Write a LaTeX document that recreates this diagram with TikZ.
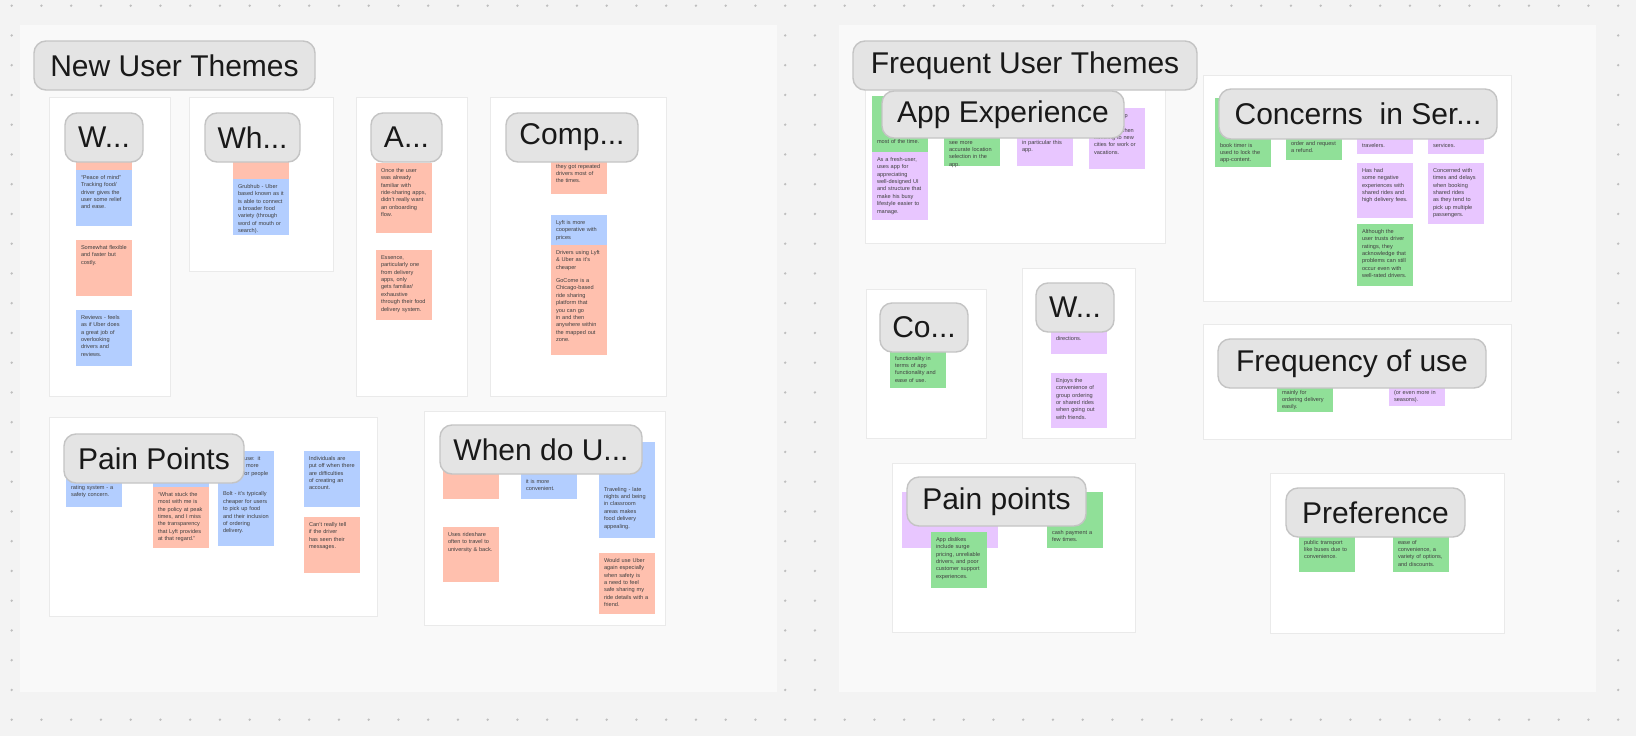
\documentclass[tikz,border=0pt]{standalone}
\usepackage{fontspec}
\setmainfont{Liberation Sans}
\usetikzlibrary{positioning}

\definecolor{canvas}{RGB}{243,243,243}
\definecolor{gridgray}{RGB}{190,190,190}
\definecolor{panel}{RGB}{249,249,249}
\definecolor{cardline}{RGB}{234,234,234}
\definecolor{taggray}{RGB}{228,228,228}
\definecolor{tagline}{RGB}{196,196,196}
\definecolor{salmon}{RGB}{255,192,174}
\definecolor{sky}{RGB}{179,206,255}
\definecolor{mint}{RGB}{144,224,152}
\definecolor{lilac}{RGB}{232,198,255}

\newcommand{\themefont}{\fontsize{30}{36}\selectfont}
\newcommand{\stickyfont}{\fontsize{5.6}{7.4}\selectfont\hyphenpenalty=10000\exhyphenpenalty=10000}

\begin{document}
\begin{tikzpicture}[
    x=1pt, y=-1pt,
    board/.style={rectangle, anchor=north west, outer sep=0, inner sep=0, fill=panel},
    card/.style={rectangle, anchor=north west, outer sep=0, inner sep=0, fill=white, draw=cardline, line width=0.8},
    note/.style={rectangle, anchor=north west, outer sep=0, inner xsep=5, inner ysep=5, text width=46, align=left, font=\stickyfont, text=black!75, text height=4.2, text depth={#1-14.2}},
    theme/.style={rectangle, rounded corners=12, anchor=north west, outer sep=0, inner sep=0, fill=taggray, draw=tagline, line width=1.4, minimum height=49, font=\themefont, text=black!90}
]

\path[use as bounding box, fill=canvas] (0,0) rectangle (1636,736);

% dot grid of the canvas
\foreach \i in {0,...,54}
  \foreach \j in {0,...,24}
    \fill[gridgray] (11.7+29.75*\i, 5.7+29.75*\j) circle (1.3);

% ==================== Sections ====================
\node[board, minimum width=757, minimum height=667] (NewBoard) at (20,25) {};
\node[board, minimum width=757, minimum height=667] (FreqBoard) at (839,25) {};

% ==================== New User Themes cards ====================
\node[card, minimum width=121, minimum height=299] (cW) at (49,97) {};
\node[card, minimum width=144, minimum height=174] (cWh) at (189,97) {};
\node[card, minimum width=111, minimum height=299] (cA) at (356,97) {};
\node[card, minimum width=176, minimum height=299] (cComp) at (490,97) {};
\node[card, minimum width=328, minimum height=199] (cPain) at (49,417) {};
\node[card, minimum width=241, minimum height=214] (cWhen) at (424,411) {};

% W...
\node[note=56, fill=salmon] (nW1) at (76,114) {};
\node[note=56, fill=sky] (nW2) at (76,170) {``Peace of mind'' Tracking food/ driver gives the user some relief and ease.};
\node[note=56, fill=salmon] (nW3) at (76,240) {Somewhat flexible and faster but costly.};
\node[note=56, fill=sky] (nW4) at (76,310) {Reviews - feels as if Uber does a great job of overlooking drivers and reviews.};

% Wh...
\node[note=56, fill=salmon] (nWh1) at (233,123) {};
\node[note=56, fill=sky] (nWh2) at (233,179) {Grubhub - Uber based known as it is able to connect a broader food variety (through word of mouth or search).};

% A...
\node[note=70, fill=salmon] (nA1) at (376,163) {Once the user was already familiar with ride-sharing apps, didn't really want an onboarding flow.};
\node[note=70, fill=salmon] (nA2) at (376,250) {Essence, particularly one from delivery apps, only gets familiar/ exhaustive through their food delivery system.};

% Comp...
\node[note=46, fill=salmon] (nC1) at (551,148) {\mbox{}\\[3.4pt]they got repeated drivers most of the times.};
\node[note=30, fill=sky] (nC2) at (551,215) {Lyft is more cooperative with prices};
\node[note=110, fill=salmon] (nC3) at (551,245) {Drivers using Lyft \& Uber as it's cheaper\\[6pt] GoCome is a Chicago-based ride sharing platform that you can go in and then anywhere within the mapped out zone.};

% Pain Points
\node[note=61, fill=sky] (nP1) at (66,446) {\mbox{}\\[26.4pt]rating system - a safety concern.};
\node[note=41, fill=sky] (nP2) at (153,446) {};
\node[note=61, fill=salmon] (nP3) at (153,487) {``What stuck the most with me is the policy at peak times, and I miss the transparency that Lyft provides at that regard.''};
\node[note=95, fill=sky] (nP4) at (218,451) {Ease of use: it provides more options for people to use\\[6pt] Bolt - it's typically cheaper for users to pick up food and their inclusion of ordering delivery.};
\node[note=56, fill=sky] (nP5) at (304,451) {Individuals are put off when there are difficulties of creating an account.};
\node[note=56, fill=salmon] (nP6) at (304,517) {Can't really tell if the driver has seen their messages.};

% When do U...
\node[note=56, fill=salmon] (nU1) at (443,443) {};
\node[note=56, fill=sky] (nU2) at (521,443) {\mbox{}\\[23.4pt]it is more convenient.};
\node[note=96, fill=sky] (nU3) at (599,442) {\mbox{}\\[32.4pt]Traveling - late nights and being in classroom areas makes food delivery appealing.};
\node[note=55, fill=salmon] (nU4) at (443,527) {Uses rideshare often to travel to university \& back.};
\node[note=61, fill=salmon] (nU5) at (599,553) {Would use Uber again especially when safety is a need to feel safe sharing my ride details with a friend.};

% ==================== Frequent User Themes cards ====================
\node[card, minimum width=300, minimum height=168] (cApp) at (865,75) {};
\node[card, minimum width=308, minimum height=226] (cConc) at (1203,75) {};
\node[card, minimum width=120, minimum height=149] (cCo) at (866,289) {};
\node[card, minimum width=113, minimum height=170] (cW2) at (1022,268) {};
\node[card, minimum width=308, minimum height=115] (cFreq) at (1203,324) {};
\node[card, minimum width=243, minimum height=169] (cPainR) at (892,463) {};
\node[card, minimum width=234, minimum height=160] (cPref) at (1270,473) {};

% App Experience
\node[note=56, fill=mint] (rA1) at (872,96) {\mbox{}\\[30.4pt]most of the time.};
\node[note=68, fill=lilac] (rA2) at (872,152) {As a fresh-user, uses app for appreciating well-designed UI and structure that make his busy lifestyle easier to manage.};
\node[note=56, fill=mint] (rA3) at (944,110) {\mbox{}\\[17.4pt]see more accurate location selection in the app.};
\node[note=56, fill=lilac] (rA4) at (1017,110) {\mbox{}\\[17.4pt]in particular this app.};
\node[note=61, fill=lilac] (rA5) at (1089,108) {Uses the app for location, especially when traveling to new cities for work or vacations.};

% Concerns in Ser...
\node[note=69, fill=mint] (rC1) at (1215,98) {\mbox{}\\[32.4pt]book timer is used to lock the app-content.};
\node[note=56, fill=mint] (rC2) at (1286,104) {\mbox{}\\[24.4pt]order and request a refund.};
\node[note=56, fill=lilac] (rC3) at (1357,98) {\mbox{}\\[32.4pt]travelers.};
\node[note=56, fill=lilac] (rC4) at (1428,98) {\mbox{}\\[32.4pt]services.};
\node[note=55, fill=lilac] (rC5) at (1357,163) {Has had some negative experiences with shared rides and high delivery fees.};
\node[note=61, fill=lilac] (rC6) at (1428,163) {Concerned with times and delays when booking shared rides as they tend to pick up multiple passengers.};
\node[note=62, fill=mint] (rC7) at (1357,224) {Although the user trusts driver ratings, they acknowledge that problems can still occur even with well-rated drivers.};

% Co...
\node[note=56, fill=mint] (rCo1) at (890,332) {\mbox{}\\[11.4pt]functionality in terms of app functionality and ease of use.};

% W...
\node[note=56, fill=lilac] (rW1) at (1051,298) {\mbox{}\\[25.4pt]directions.};
\node[note=55, fill=lilac] (rW2) at (1051,373) {Enjoys the convenience of group ordering or shared rides when going out with friends.};

% Frequency of use
\node[note=56, fill=mint] (rF1) at (1277,356) {\mbox{}\\[21.4pt]mainly for ordering delivery easily.};
\node[note=56, fill=lilac] (rF2) at (1389,350) {\mbox{}\\[27.4pt](or even more in seasons).};

% Pain points
\node[note=56, fill=lilac, text width=86] (rP1) at (902,492) {};
\node[note=56, fill=mint] (rP2) at (931,532) {App dislikes include surge pricing, unreliable drivers, and poor customer support experiences.};
\node[note=56, fill=mint] (rP3) at (1047,492) {\mbox{}\\[25.4pt]cash payment a few times.};

% Preference
\node[note=56, fill=mint] (rR1) at (1299,516) {\mbox{}\\[11.4pt]public transport like buses due to convenience.};
\node[note=56, fill=mint] (rR2) at (1393,516) {\mbox{}\\[11.4pt]ease of convenience, a variety of options, and discounts.};

% ==================== Theme labels ====================
\node[theme, minimum width=78] (tW) at (65,113) {W...};
\node[theme, minimum width=95] (tWh) at (205,113) {Wh...};
\node[theme, minimum width=71] (tA) at (371,113) {A...};
\node[theme, minimum width=132] (tComp) at (506,113) {Comp...};
\node[theme, minimum width=180] (tPain) at (64,434) {Pain Points};
\node[theme, minimum width=202] (tWhen) at (440,425) {When do U...};

\node[theme, minimum width=242, minimum height=47] (tApp) at (882,91) {App Experience};
\node[theme, minimum width=278, minimum height=50] (tConc) at (1219,89) {Concerns\ \ in Ser...};
\node[theme, minimum width=88] (tCo) at (880,303) {Co...};
\node[theme, minimum width=78] (tW2) at (1036,283) {W...};
\node[theme, minimum width=268] (tFreq) at (1218,339) {Frequency of use};
\node[theme, minimum width=179] (tPainR) at (907,477) {Pain points};
\node[theme, minimum width=179] (tPref) at (1286,488) {Preference};

% section titles
\node[theme, minimum width=281] (tNewUser) at (34,41) {New User Themes};
\node[theme, minimum width=344] (tFreqUser) at (853,41) {Frequent User Themes};

\end{tikzpicture}
\end{document}
